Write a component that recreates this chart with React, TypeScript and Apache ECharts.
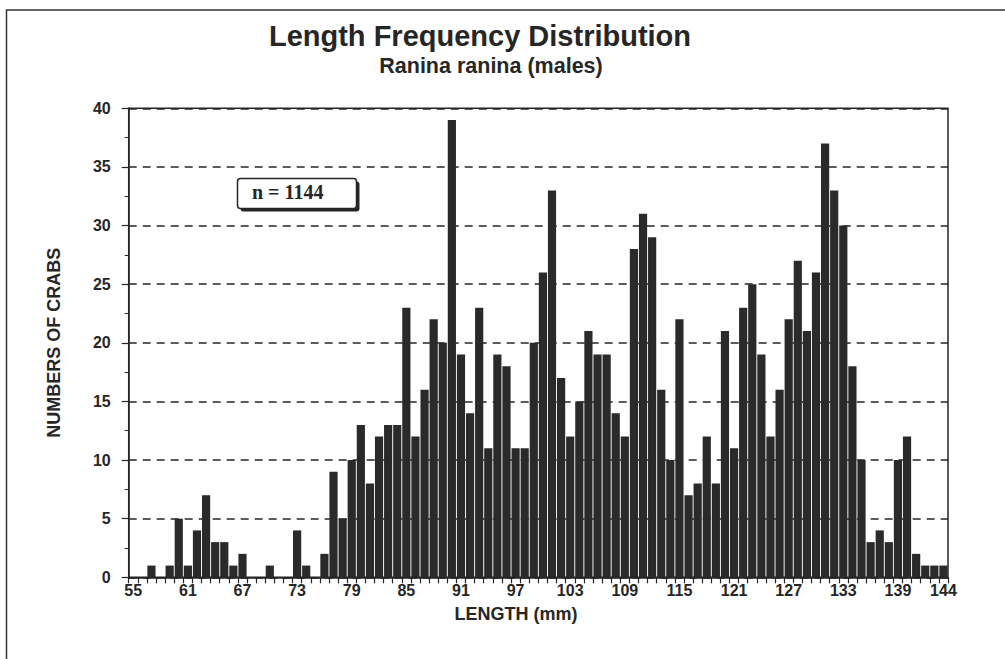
import React, { useEffect, useRef } from 'react';
import * as echarts from 'echarts';

const lengthCategories = [
  '55', '56', '57', '58', '59', '60', '61', '62', '63', '64',
  '65', '66', '67', '68', '69', '70', '71', '72', '73', '74',
  '75', '76', '77', '78', '79', '80', '81', '82', '83', '84',
  '85', '86', '87', '88', '89', '90', '91', '92', '93', '94',
  '95', '96', '97', '98', '99', '100', '101', '102', '103', '104',
  '105', '106', '107', '108', '109', '110', '111', '112', '113', '114',
  '115', '116', '117', '118', '119', '120', '121', '122', '123', '124',
  '125', '126', '127', '128', '129', '130', '131', '132', '133', '134',
  '135', '136', '137', '138', '139', '140', '141', '142', '143', '144',
];

const crabCounts = [
  0, 0, 1, 0, 1, 5, 1, 4, 7, 3,
  3, 1, 2, 0, 0, 1, 0, 0, 4, 1,
  0, 2, 9, 5, 10, 13, 8, 12, 13, 13,
  23, 12, 16, 22, 20, 39, 19, 14, 23, 11,
  19, 18, 11, 11, 20, 26, 33, 17, 12, 15,
  21, 19, 19, 14, 12, 28, 31, 29, 16, 10,
  22, 7, 8, 12, 8, 21, 11, 23, 25, 19,
  12, 16, 22, 27, 21, 26, 37, 33, 30, 18,
  10, 3, 4, 3, 10, 12, 2, 1, 1, 1,
];

const xTickLabels = ['55', '61', '67', '73', '79', '85', '91', '97', '103', '109', '115', '121', '127', '133', '139', '144'];

const yMin = 0;
const yMax = 40;
const yStep = 5;

const titleText = 'Length Frequency Distribution';
const subtitleText = 'Ranina ranina (males)';
const xAxisTitle = 'LENGTH (mm)';
const yAxisTitle = 'NUMBERS OF CRABS';
const sampleNote = 'n = 1144';

const FONT = '"Liberation Sans", Arial, Helvetica, sans-serif';
const INK = '#262626';

export default function App() {
  const ref = useRef<HTMLDivElement>(null);

  useEffect(() => {
    if (!ref.current) return;
    const chart = echarts.init(ref.current, undefined, { renderer: 'svg' });
    const labelSet = new Set(xTickLabels);

    chart.setOption({
      animation: false,
      backgroundColor: '#ffffff',
      grid: {
        left: 128.7,
        right: 57,
        top: 108.3,
        bottom: 81.7,
        show: true,
        borderColor: INK,
        borderWidth: 1.5,
        backgroundColor: 'transparent',
      },
      xAxis: {
        type: 'category',
        data: lengthCategories,
        boundaryGap: true,
        axisLine: { show: true, lineStyle: { color: INK, width: 1.5 } },
        axisTick: {
          show: true,
          interval: 0,
          alignWithLabel: false,
          length: 6,
          lineStyle: { color: INK, width: 1.2 },
        },
        axisLabel: {
          interval: (_i: number, v: string) => labelSet.has(v),
          margin: 5,
          fontFamily: FONT,
          fontSize: 16,
          fontWeight: 'bold',
          color: INK,
          hideOverlap: false,
        },
        splitLine: { show: false },
      },
      yAxis: {
        type: 'value',
        min: yMin,
        max: yMax,
        interval: yStep,
        name: yAxisTitle,
        nameLocation: 'middle',
        nameGap: 66,
        nameRotate: 90,
        nameTextStyle: {
          fontFamily: FONT,
          fontSize: 18,
          fontWeight: 'bold',
          color: INK,
        },
        axisLine: { show: true, lineStyle: { color: INK, width: 1.5 } },
        axisTick: { show: true, length: 7, lineStyle: { color: INK, width: 1.2 } },
        minorTick: { show: true, splitNumber: 2, length: 4, lineStyle: { color: INK, width: 1 } },
        axisLabel: {
          margin: 18,
          fontFamily: FONT,
          fontSize: 16,
          fontWeight: 'bold',
          color: INK,
        },
        splitLine: {
          show: true,
          lineStyle: { color: INK, width: 1.5, type: [8, 6] },
        },
      },
      series: [
        {
          type: 'bar',
          data: crabCounts,
          barCategoryGap: '10%',
          itemStyle: { color: '#2a2a2a' },
          silent: true,
        },
      ],
      graphic: [
        {
          type: 'rect',
          shape: { x: 6.5, y: 10, width: 1100, height: 800 },
          style: { fill: 'none', stroke: '#333', lineWidth: 1.5 },
          silent: true,
        },
        {
          type: 'text',
          x: 480,
          y: 36,
          style: {
            text: titleText,
            fontFamily: FONT,
            fontSize: 29,
            fontWeight: 'bold',
            fill: INK,
            align: 'center',
            verticalAlign: 'middle',
          },
        },
        {
          type: 'text',
          x: 491,
          y: 66,
          style: {
            text: subtitleText,
            fontFamily: FONT,
            fontSize: 21.5,
            fontWeight: 'bold',
            fill: INK,
            align: 'center',
            verticalAlign: 'middle',
          },
        },
        {
          type: 'text',
          x: 516,
          y: 614,
          style: {
            text: xAxisTitle,
            fontFamily: FONT,
            fontSize: 18,
            fontWeight: 'bold',
            fill: INK,
            align: 'center',
            verticalAlign: 'middle',
          },
        },
        {
          type: 'rect',
          shape: { x: 240.5, y: 181.5, width: 119, height: 30, r: 3 },
          style: { fill: INK, stroke: 'none' },
          z: 10,
        },
        {
          type: 'rect',
          shape: { x: 237.5, y: 178.5, width: 119, height: 30, r: 3 },
          style: { fill: '#ffffff', stroke: INK, lineWidth: 1.5 },
          z: 11,
        },
        {
          type: 'text',
          x: 252,
          y: 192,
          z: 12,
          style: {
            text: sampleNote,
            fontFamily: '"Liberation Serif", "Times New Roman", serif',
            fontSize: 20,
            fontWeight: 'bold',
            fill: INK,
            align: 'left',
            verticalAlign: 'middle',
          },
        },
      ],
    });

    return () => chart.dispose();
  }, []);

  return (
    <div
      ref={ref}
      style={{ position: 'fixed', left: 0, top: 0, width: 1005, height: 659, background: '#fff' }}
    />
  );
}
